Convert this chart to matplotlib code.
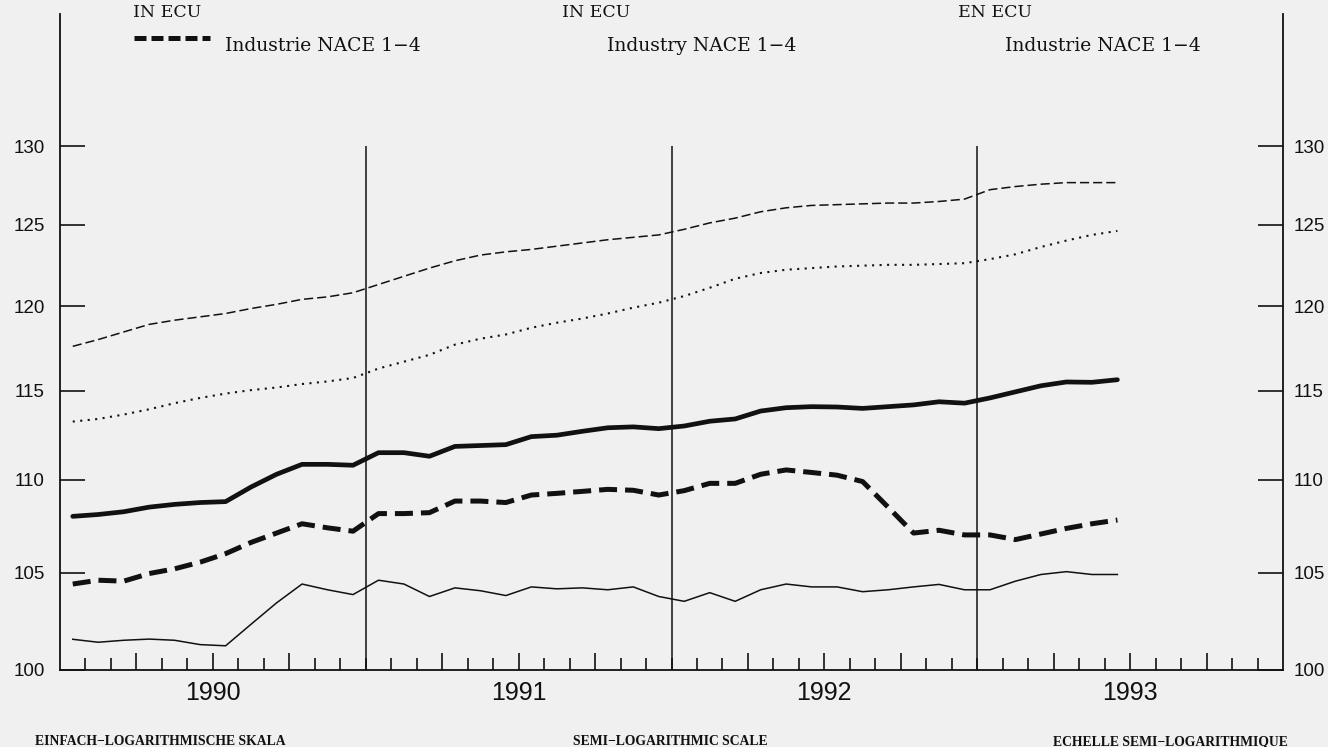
import numpy as np
import matplotlib
matplotlib.use("Agg")
import matplotlib.pyplot as plt
from matplotlib.lines import Line2D
from matplotlib.transforms import ScaledTranslation
from matplotlib.ticker import FixedLocator, FixedFormatter, NullLocator

# Monthly values, Jan 1990 - Jun 1993 (42 months)
meses = np.arange(42)

serie_a = [117.6, 118.0, 118.45, 118.9, 119.15, 119.35, 119.55, 119.85, 120.1, 120.4, 120.55, 120.8,
           121.3, 121.8, 122.3, 122.75, 123.1, 123.3, 123.45, 123.65, 123.85, 124.05, 124.2, 124.35,
           124.7, 125.1, 125.4, 125.8, 126.05, 126.2, 126.25, 126.3, 126.35, 126.35, 126.45, 126.6,
           127.2, 127.4, 127.55, 127.65, 127.65, 127.65]

serie_b = [113.25, 113.4, 113.65, 113.95, 114.3, 114.6, 114.85, 115.05, 115.2, 115.4, 115.55, 115.75,
           116.3, 116.7, 117.1, 117.7, 118.05, 118.3, 118.7, 119.0, 119.25, 119.55, 119.9, 120.2,
           120.6, 121.1, 121.65, 122.0, 122.2, 122.3, 122.4, 122.45, 122.5, 122.5, 122.55, 122.6,
           122.85, 123.15, 123.6, 124.0, 124.35, 124.6]

serie_c = [108.0, 108.1, 108.25, 108.5, 108.65, 108.75, 108.8, 109.6, 110.3, 110.85, 110.85, 110.8,
           111.5, 111.5, 111.3, 111.85, 111.9, 111.95, 112.4, 112.48, 112.7, 112.9, 112.95, 112.85,
           113.0, 113.27, 113.4, 113.85, 114.04, 114.1, 114.08, 114.0, 114.1, 114.2, 114.38, 114.3,
           114.6, 114.95, 115.3, 115.52, 115.5, 115.65]

industrie = [104.4, 104.6, 104.55, 104.95, 105.2, 105.55, 106.0, 106.6, 107.1, 107.6, 107.38, 107.2,
             108.15, 108.15, 108.2, 108.83, 108.83, 108.75, 109.16, 109.25, 109.36, 109.47, 109.42, 109.16,
             109.4, 109.8, 109.8, 110.3, 110.54, 110.4, 110.25, 109.9, 108.5, 107.1, 107.25, 107.0,
             107.0, 106.75, 107.05, 107.35, 107.6, 107.8]

serie_e = [101.55, 101.4, 101.5, 101.56, 101.5, 101.28, 101.22, 102.32, 103.42, 104.4, 104.1, 103.85,
           104.6, 104.4, 103.75, 104.2, 104.05, 103.8, 104.25, 104.15, 104.2, 104.1, 104.25, 103.75,
           103.5, 103.95, 103.5, 104.1, 104.4, 104.25, 104.25, 104.0, 104.1, 104.25, 104.38, 104.1,
           104.1, 104.55, 104.9, 105.05, 104.9, 104.9]

anios = [1990, 1991, 1992, 1993]
y_ticks = [100, 105, 110, 115, 120, 125, 130]

W, H = 1328, 747
fondo = "#f0f0f0"
negro = "#111111"

fig = plt.figure(figsize=(W / 100, H / 100), dpi=100, facecolor=fondo)
ax = fig.add_axes([60 / W, 1 - 670 / H, (1283 - 60) / W, (670 - 14) / H], facecolor=fondo)

x = 1990 + (meses + 0.5) / 12

ax.plot(x, serie_a, color=negro, lw=1.1, linestyle=(0, (6, 2.6)))
ax.plot(x, serie_b, color=negro, lw=1.5, linestyle=(0, (1, 2.6)))
ax.plot(x, serie_c, color=negro, lw=3.4, solid_capstyle="round")
ax.plot(x, industrie, color=negro, lw=3.6, linestyle=(0, (3.6, 1.6)))
ax.plot(x, serie_e, color=negro, lw=1.1)

# year separators
ax.vlines(anios[1:], 100, 130, color=negro, lw=1.1)

ax.set_yscale("log")
ax.set_ylim(100, 138.9)
ax.set_xlim(1990, 1994)

sans = ["Liberation Sans", "DejaVu Sans"]

ax.yaxis.set_major_locator(FixedLocator(y_ticks))
ax.yaxis.set_major_formatter(FixedFormatter([str(v) for v in y_ticks]))
ax.yaxis.set_minor_locator(NullLocator())
ax.tick_params(axis="y", which="major", direction="in", length=18, width=1.2,
               left=True, right=True, labelleft=True, labelright=True,
               labelsize=13.5, pad=11, colors=negro)

# right labels a bit closer to the spine than the left ones
derecha = ax.get_yaxis_transform(which="tick2") + ScaledTranslation(7.5 / 72, 0, fig.dpi_scale_trans)
for t in ax.yaxis.get_major_ticks():
    t.label1.set_family(sans)
    t.label2.set_family(sans)
    t.label2.set_transform(derecha)

# quarter ticks (long) with year labels in the middle, month ticks (short)
cuartos = [a + q for a in anios for q in (0.25, 0.5, 0.75)]
etiquetas = [str(a) if q == 0.5 else "" for a in anios for q in (0.25, 0.5, 0.75)]
ax.xaxis.set_major_locator(FixedLocator(cuartos))
ax.xaxis.set_major_formatter(FixedFormatter(etiquetas))
ax.xaxis.set_minor_locator(FixedLocator(1990 + np.arange(1, 48) / 12))
ax.tick_params(axis="x", which="major", direction="in", length=12, width=1.2,
               labelsize=18, pad=8, colors=negro)
ax.tick_params(axis="x", which="minor", direction="in", length=8.5, width=1.2, colors=negro)
for lab in ax.get_xticklabels():
    lab.set_family(sans)

ax.spines["top"].set_visible(False)
for s in ("left", "right", "bottom"):
    ax.spines[s].set_linewidth(1.3)
    ax.spines[s].set_color(negro)


def fx(px):
    return px / W


def fy(py):
    return 1 - py / H


serif = ["DejaVu Serif"]
fig.text(fx(133), fy(17), "IN ECU", family=serif, fontsize=12.5, va="baseline", color=negro)
fig.text(fx(562), fy(17), "IN ECU", family=serif, fontsize=12.5, va="baseline", color=negro)
fig.text(fx(958), fy(17), "EN ECU", family=serif, fontsize=12.5, va="baseline", color=negro)
fig.text(fx(225), fy(51), "Industrie NACE 1\u22124", family=serif, fontsize=13.5, va="baseline", color=negro)
fig.text(fx(607), fy(51), "Industry NACE 1\u22124", family=serif, fontsize=13.5, va="baseline", color=negro)
fig.text(fx(1005), fy(51), "Industrie NACE 1\u22124", family=serif, fontsize=13.5, va="baseline", color=negro)
fig.add_artist(Line2D([fx(134), fx(210)], [fy(38), fy(38)], color=negro, lw=3.6,
                      linestyle=(0, (2.4, 1.0))))

pie = ["Liberation Serif", "DejaVu Serif"]
fig.text(fx(35), fy(745), "EINFACH\u2212LOGARITHMISCHE SKALA", family=pie, fontsize=9.8,
         weight="bold", va="baseline", color=negro)
fig.text(fx(670), fy(745), "SEMI\u2212LOGARITHMIC SCALE", family=pie, fontsize=9.8,
         weight="bold", va="baseline", ha="center", color=negro)
fig.text(fx(1288), fy(745), "ECHELLE SEMI\u2212LOGARITHMIQUE", family=pie, fontsize=9.8,
         weight="bold", va="baseline", ha="right", color=negro)

fig.savefig("out.png", dpi=100, facecolor=fondo)
